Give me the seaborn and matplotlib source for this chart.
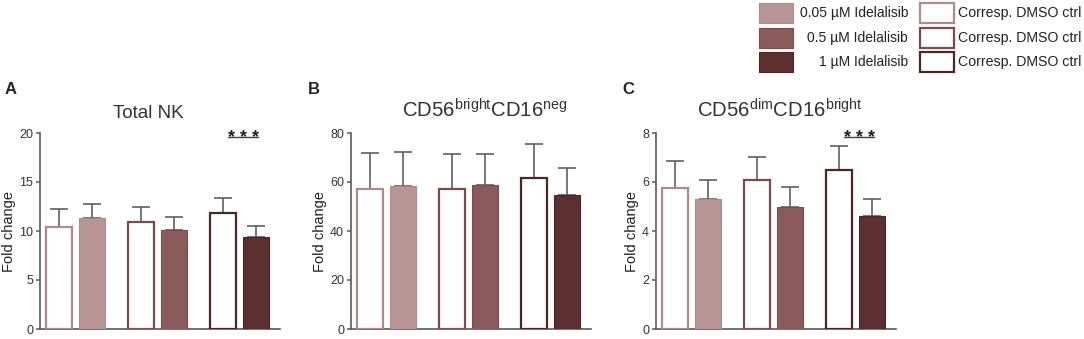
"""NK subset fold change under Idelalisib vs matched DMSO controls (3 panels)."""

import matplotlib
matplotlib.use("Agg")
import matplotlib.pyplot as plt
from matplotlib.patches import Rectangle
import numpy as np
import pandas as pd
import seaborn as sns

sns.set_style("ticks")
plt.rcParams["font.family"] = ["Liberation Sans", "DejaVu Sans"]
plt.rcParams["mathtext.fontset"] = "custom"
plt.rcParams["mathtext.rm"] = "Liberation Sans"

# ---- data ----
concentrations = ["0.05 µM", "0.5 µM", "1 µM"]
treatments = ["DMSO", "Idelalisib"]

nk_dmso = [10.45, 10.9, 11.8]
nk_dmso_sd = [1.75, 1.5, 1.55]
nk_idel = [11.35, 10.1, 9.35]
nk_idel_sd = [1.45, 1.35, 1.2]

bright_dmso = [57.0, 57.0, 61.7]
bright_dmso_sd = [15.0, 14.3, 14.0]
bright_idel = [58.3, 58.7, 54.6]
bright_idel_sd = [14.0, 12.9, 11.3]

dim_dmso = [5.76, 6.09, 6.50]
dim_dmso_sd = [1.08, 0.94, 0.95]
dim_idel = [5.32, 4.99, 4.60]
dim_idel_sd = [0.75, 0.81, 0.72]

panel_titles = ["Total NK",
                r"CD56$^{\mathrm{bright}}$CD16$^{\mathrm{neg}}$",
                r"CD56$^{\mathrm{dim}}$CD16$^{\mathrm{bright}}$"]
title_sizes = [13.5, 14.7, 14.7]
title_x = [0.45, 0.558, 0.517]
panel_letters = ["A", "B", "C"]
y_ticks = [[0, 5, 10, 15, 20], [0, 20, 40, 60, 80], [0, 2, 4, 6, 8]]
# significance (panel index -> y level), drawn over the 1 µM pair
significance = {0: 19.6, 2: 7.85}

fill_colors = ["#b89595", "#8b5a5a", "#5c302e"]
edge_colors = ["#b08a8a", "#7e4b4b", "#4e2523"]
axis_gray = "#5a5a5a"

legend_labels = ["0.05 µM Idelalisib", "0.5 µM Idelalisib", "1 µM Idelalisib"]
ctrl_label = "Corresp. DMSO ctrl"


def make_frame(dmso, dmso_sd, idel, idel_sd):
    rows = []
    for i, c in enumerate(concentrations):
        rows.append({"conc": c, "treatment": "DMSO", "value": dmso[i], "sd": dmso_sd[i]})
        rows.append({"conc": c, "treatment": "Idelalisib", "value": idel[i], "sd": idel_sd[i]})
    return pd.DataFrame(rows)


frames = [
    make_frame(nk_dmso, nk_dmso_sd, nk_idel, nk_idel_sd),
    make_frame(bright_dmso, bright_dmso_sd, bright_idel, bright_idel_sd),
    make_frame(dim_dmso, dim_dmso_sd, dim_idel, dim_idel_sd),
]

fig = plt.figure(figsize=(10.84, 3.39), dpi=100)
W, H = 1084, 339
ax_lefts = [40, 351, 656]
letter_offsets = [-35, -43, -34]
ax_w = 240
ax_top, ax_bottom = 133, 329

for k, df in enumerate(frames):
    ax = fig.add_axes([ax_lefts[k] / W, 1 - ax_bottom / H, ax_w / W, (ax_bottom - ax_top) / H])
    sns.barplot(data=df, x="conc", y="value", hue="treatment",
                order=concentrations, hue_order=treatments,
                width=0.8, gap=0.2, errorbar=None, legend=False,
                palette=["white", "#888888"], ax=ax)

    bars = sorted(ax.patches, key=lambda p: p.get_x())
    for j, p in enumerate(bars):
        ci, ti = j // 2, j % 2
        row = df[(df.conc == concentrations[ci]) & (df.treatment == treatments[ti])].iloc[0]
        if ti == 0:
            p.set_facecolor("white")
            p.set_edgecolor(edge_colors[ci])
            p.set_linewidth(1.6)
        else:
            p.set_facecolor(fill_colors[ci])
            p.set_edgecolor(edge_colors[ci])
            p.set_linewidth(0.8)
        p.set_zorder(3)
        cx = p.get_x() + p.get_width() / 2
        ax.errorbar(cx, row.value, yerr=[[0], [row.sd]], fmt="none",
                    ecolor="#606060", elinewidth=1.2, capsize=6.5, capthick=1.2,
                    zorder=2)

    ax.set_xlim(-0.43, 2.49)
    ax.set_ylim(0, y_ticks[k][-1])
    ax.set_yticks(y_ticks[k])
    ax.set_xticks([])
    ax.set_xlabel("")
    ax.set_ylabel("Fold change", fontsize=10.5, color="#222222", labelpad=2)
    ax.tick_params(axis="y", labelsize=9, colors=axis_gray, labelcolor="#333333",
                   length=3, width=1.1, pad=2)
    sns.despine(ax=ax)
    for s in ("left", "bottom"):
        ax.spines[s].set_color(axis_gray)
        ax.spines[s].set_linewidth(1.2)
    ax.set_title(panel_titles[k], fontsize=title_sizes[k], color="#333333",
                 pad=11, x=title_x[k])
    ax.text(letter_offsets[k] / ax_w, 1.185, panel_letters[k], transform=ax.transAxes,
            fontsize=12, fontweight="bold", ha="left", va="bottom")

    if k in significance:
        ylev = significance[k]
        ax.plot([1.86, 2.22], [ylev, ylev], color="#444444", lw=1.0,
                clip_on=False, zorder=4)
        ax.annotate("* * *", xy=(2.04, ylev), xytext=(0, -4.3),
                    textcoords="offset points", ha="center", va="baseline",
                    fontsize=13, fontweight="bold", color="#222222",
                    annotation_clip=False)

# ---- legend drawn as figure artists ----
box_w, box_h = 34, 20
row_tops = [3, 28, 52]
for r in range(3):
    yb = 1 - (row_tops[r] + box_h) / H
    fig.add_artist(Rectangle((759 / W, yb), box_w / W, box_h / H,
                             transform=fig.transFigure, facecolor=fill_colors[r],
                             edgecolor=edge_colors[r], lw=0.8))
    fig.text(908 / W, 1 - (row_tops[r] + box_h / 2) / H, legend_labels[r],
             ha="right", va="center", fontsize=10, color="#222222")
    fig.add_artist(Rectangle((920 / W, yb), box_w / W, box_h / H,
                             transform=fig.transFigure, facecolor="white",
                             edgecolor=edge_colors[r], lw=1.6))
    fig.text(958 / W, 1 - (row_tops[r] + box_h / 2) / H, ctrl_label,
             ha="left", va="center", fontsize=10.2, color="#222222")

fig.savefig("out.png", dpi=100)
